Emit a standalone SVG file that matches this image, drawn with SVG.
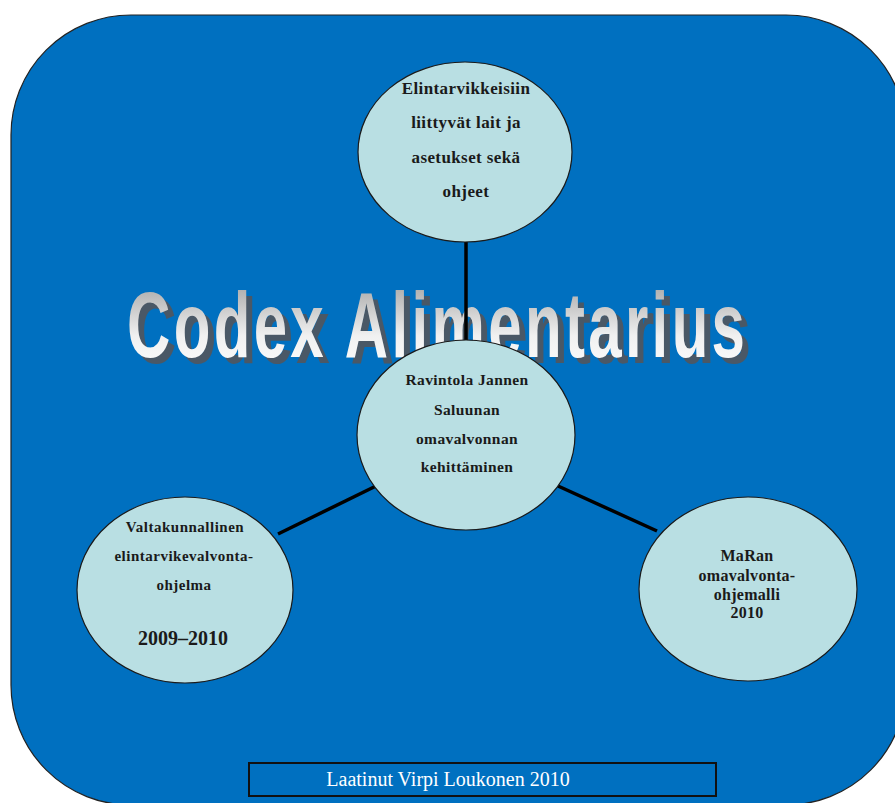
<svg xmlns="http://www.w3.org/2000/svg" width="895" height="803" viewBox="0 0 895 803">
<defs>
<linearGradient id="wa" x1="0" y1="0" x2="0" y2="1">
<stop offset="0" stop-color="#9a9a9a"/>
<stop offset="0.6" stop-color="#f0f0f0"/>
<stop offset="1" stop-color="#ffffff"/>
</linearGradient>
</defs>
<style>
.bubble{fill:#B9DFE3;stroke:#1a1a1a;stroke-width:1.2}
.conn{stroke:#000;stroke-width:3.5;fill:none}
.lbl{font-family:"Liberation Sans",Arial,sans-serif;font-family:"Liberation Serif","Times New Roman",serif;font-weight:bold;fill:#1a1a1a;text-anchor:middle}
.title{font-family:"Liberation Sans",Arial,sans-serif;font-weight:bold;font-size:60px}
</style>
<rect x="11" y="15" width="895" height="790" rx="120" ry="120" fill="#0070C0" stroke="#222" stroke-width="1.2"/>
<g id="title">
<text class="title" transform="translate(133,363) scale(1,1.55)" x="0" y="0" fill="#4a5866" textLength="618" lengthAdjust="spacing">Codex Alimentarius</text>
<text class="title" transform="translate(127,357) scale(1,1.55)" x="0" y="0" fill="url(#wa)" textLength="618" lengthAdjust="spacing">Codex Alimentarius</text>
</g>
<g id="connectors">
<line class="conn" x1="466" y1="235" x2="466" y2="345"/>
<line class="conn" x1="376" y1="486" x2="278" y2="534"/>
<line class="conn" x1="558" y1="486" x2="657" y2="531"/>
</g>
<g id="node-top">
<ellipse class="bubble" cx="465" cy="152" rx="107" ry="90"/>
<text class="lbl" font-size="17" letter-spacing="0.4"><tspan x="466" y="94">Elintarvikkeisiin</tspan><tspan x="466" y="128">liittyvät lait ja</tspan><tspan x="466" y="163">asetukset sekä</tspan><tspan x="466" y="197">ohjeet</tspan></text>
</g>
<g id="node-center">
<ellipse class="bubble" cx="466" cy="435" rx="109" ry="95"/>
<text class="lbl" font-size="15.5" letter-spacing="0.4"><tspan x="467" y="385">Ravintola Jannen</tspan><tspan x="467" y="415">Saluunan</tspan><tspan x="467" y="444">omavalvonnan</tspan><tspan x="467" y="472">kehittäminen</tspan></text>
</g>
<g id="node-left">
<ellipse class="bubble" cx="185" cy="590" rx="108" ry="93"/>
<text class="lbl" font-size="15" letter-spacing="0.5"><tspan x="185" y="532">Valtakunnallinen</tspan><tspan x="184" y="561">elintarvikevalvonta-</tspan><tspan x="184" y="590">ohjelma</tspan></text>
<text class="lbl" font-size="20" x="183" y="645">2009–2010</text>
</g>
<g id="node-right">
<ellipse class="bubble" cx="748" cy="589" rx="109" ry="92"/>
<text class="lbl" font-size="16" letter-spacing="0.3"><tspan x="747" y="561">MaRan</tspan><tspan x="747" y="581">omavalvonta-</tspan><tspan x="747" y="600">ohjemalli</tspan><tspan x="747" y="618">2010</tspan></text>
</g>
<g id="credit">
<rect x="249" y="763" width="467" height="33" fill="#0070C0" stroke="#111" stroke-width="2"/>
<text x="448" y="786" font-family="'Liberation Serif','Times New Roman',serif" font-size="20" fill="#fff" text-anchor="middle">Laatinut Virpi Loukonen 2010</text>
</g>
</svg>
